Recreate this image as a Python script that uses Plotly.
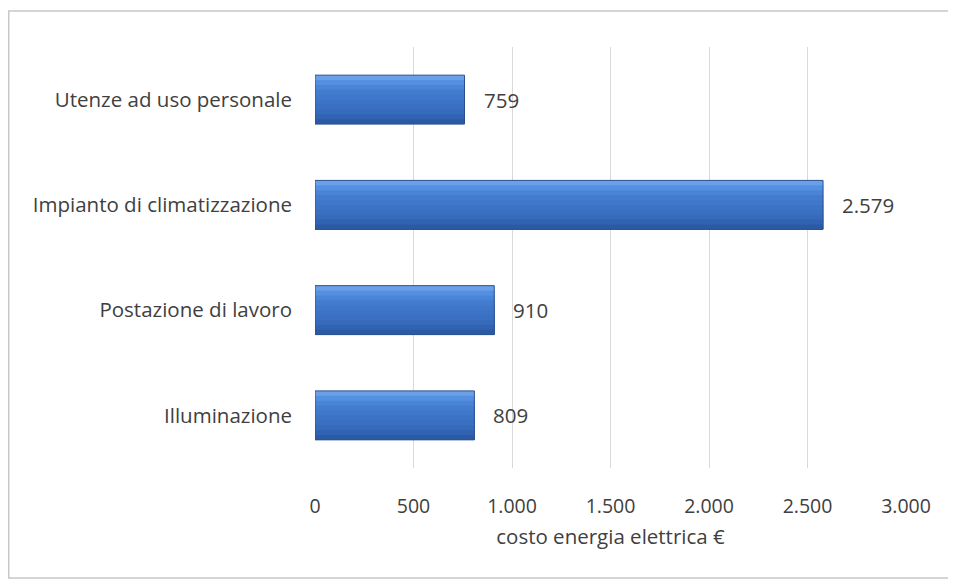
import plotly.graph_objects as go

categories = ["Illuminazione", "Postazione di lavoro", "Impianto di climatizzazione", "Utenze ad uso personale"]
values = [809, 910, 2579, 759]
value_labels = ["809", "910", "2.579", "759"]
x_tickvals = [0, 500, 1000, 1500, 2000, 2500, 3000]
x_ticktext = ["0", "500", "1.000", "1.500", "2.000", "2.500", "3.000"]
x_title = "costo energia elettrica €"

# page has an 8px body margin; figure sized to end at the window edge
W, H = 948, 572
ML, MR, MT, MB = 307, 50, 39, 112
FONT = "Open Sans"
TXT = "#404040"

fig = go.Figure()

# gradient-like bars: overlapping strips, each reaching the bar bottom (top lighter, bottom darker)
bar_w = 0.465
strip_colors = ["#6AA0E8", "#5590E0", "#4A84D6", "#437CCF", "#3F77CA",
                "#3C73C6", "#3A70C2", "#366ABB", "#3163B2", "#2B5AA4"]
n = len(strip_colors)
sw = bar_w / n
for i, c in enumerate(strip_colors):
    top = bar_w / 2 - i * sw
    length = top + bar_w / 2
    fig.add_trace(go.Bar(
        y=categories, x=values, orientation="h",
        width=length, offset=-bar_w / 2,
        marker=dict(color=c, line=dict(width=0)),
        hoverinfo="skip", showlegend=False,
    ))
# outline
fig.add_trace(go.Bar(
    y=categories, x=values, orientation="h",
    width=bar_w, marker=dict(color="rgba(0,0,0,0)", line=dict(color="#2A5090", width=1)),
    showlegend=False,
))

for cat, v, lab in zip(categories, values, value_labels):
    fig.add_annotation(x=v, y=cat, text=lab, showarrow=False, xanchor="left",
                       xshift=17, font=dict(family=FONT, size=20.5, color=TXT))

fig.update_layout(
    width=W, height=H, barmode="overlay",
    margin=dict(l=ML, r=MR, t=MT, b=MB),
    paper_bgcolor="white", plot_bgcolor="white",
    font=dict(family=FONT, size=20, color=TXT),
    xaxis=dict(range=[0, 3000], tickvals=x_tickvals, ticktext=x_ticktext,
               showgrid=True, gridcolor="#D9D9D9", gridwidth=1,
               zeroline=False, showline=False, ticks="",
               ticklabelstandoff=24, tickfont=dict(family=FONT, size=19.5, color=TXT),
               title=dict(text=x_title, standoff=12, font=dict(family=FONT, size=20.5, color=TXT))),
    yaxis=dict(categoryorder="array", categoryarray=categories,
               showgrid=False, zeroline=False, showline=False, ticks="",
               ticklabelstandoff=22, tickfont=dict(family=FONT, size=20.5, color=TXT)),
)

pw, ph = W - ML - MR, H - MT - MB
def px(x): return (x - ML) / pw
def py(y): return (H - MB - y) / ph
fig.add_shape(type="rect", xref="paper", yref="paper",
              x0=px(0.75), x1=px(946), y0=py(570), y1=py(3),
              line=dict(color="#C8C8C8", width=1.5), fillcolor="rgba(0,0,0,0)", layer="below")

fig.write_html("out.html")
